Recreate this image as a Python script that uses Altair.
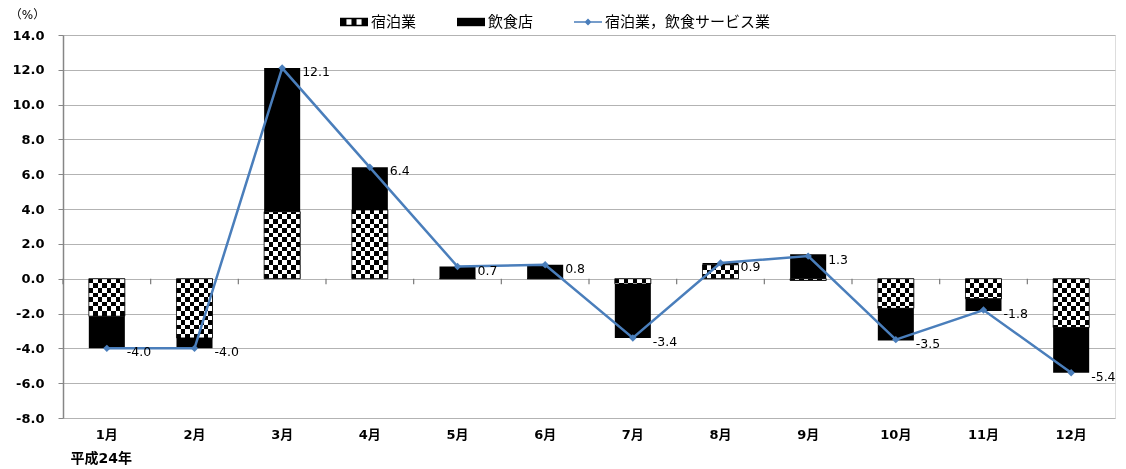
import altair as alt

# ---------------- data ----------------
months = ["1月", "2月", "3月", "4月", "5月", "6月", "7月", "8月", "9月", "10月", "11月", "12月"]
accom = [-2.15, -3.4, 3.85, 3.95, 0.0, 0.0, -0.3, 0.8, -0.1, -1.7, -1.15, -2.8]   # 宿泊業
food = [-1.85, -0.6, 8.25, 2.45, 0.7, 0.8, -3.1, 0.1, 1.4, -1.85, -0.7, -2.6]     # 飲食店
total = [-4.0, -4.0, 12.1, 6.4, 0.7, 0.8, -3.4, 0.9, 1.3, -3.5, -1.8, -5.4]        # 宿泊業，飲食サービス業
series_names = ["宿泊業", "飲食店", "宿泊業，飲食サービス業"]
y_ticks = [-8, -6, -4, -2, 0, 2, 4, 6, 8, 10, 12, 14]

# ---------------- style ----------------
FONT = "DejaVu Sans, Noto Sans CJK JP"
BLUE = "#4a7ebb"
W, H = 1052, 383
YMIN, YMAX = -8, 14
PXU = H / (YMAX - YMIN)
STEP = W / len(months)
SQ = 4.6  # checker square size in px
NCOL = 8
MINUS_FIX = "replace(format({v}, '.1f'), '\u2212', '-')"


def vstripes():
    stops = []
    for k in range(NCOL):
        c = "white" if k % 2 == 0 else "black"
        stops += [{"offset": k / NCOL, "color": c}, {"offset": (k + 1) / NCOL, "color": c}]
    return {"gradient": "linear", "x1": 0, "y1": 0, "x2": 1, "y2": 0, "stops": stops}


def hstripes(v):
    h = max(abs(v) * PXU, 0.5)
    stops = []
    k = 0
    while k * SQ < h:
        c = "white" if k % 2 == 0 else "rgba(255,255,255,0)"
        o0 = k * SQ / h
        o1 = min((k + 1) * SQ / h, 1.0)
        stops += [{"offset": o0, "color": c}, {"offset": o1, "color": c}]
        k += 1
    y1, y2 = (0, 1) if v < 0 else (1, 0)
    return {"gradient": "linear", "x1": 0, "y1": y1, "x2": 0, "y2": y2, "stops": stops}


accom_rows = [{"month": m, "lo": 0.0, "hi": a, "grad": hstripes(a)} for m, a in zip(months, accom)]
food_rows = []
for m, a, f in zip(months, accom, food):
    if a * f > 0:
        food_rows.append({"month": m, "lo": a, "hi": a + f})
    else:
        food_rows.append({"month": m, "lo": 0.0, "hi": f})
line_rows = [{"month": m, "total": t, "series": series_names[2]} for m, t in zip(months, total)]
legend_rows = [{"series": s} for s in series_names]
tick_rows = [{"month": m} for m in months]

# legend symbol paths
checker_path = ("M-1,-0.3 H1 V0.3 H-1 Z "
                "M-0.9,-0.2 V0.2 H0.9 V-0.2 Z "
                "M-0.9,-0.2 H-0.54 V0.2 H-0.9 Z "
                "M-0.18,-0.2 H0.18 V0.2 H-0.18 Z "
                "M0.54,-0.2 H0.9 V0.2 H0.54 Z")
rect_path = "M-1,-0.3 H1 V0.3 H-1 Z"
line_path = "M-1,-0.05 H1 V0.05 H-1 Z M0,-0.25 L0.25,0 L0,0.25 L-0.25,0 Z"

xscale = alt.Scale(domain=months, paddingInner=0.589, paddingOuter=0.2945)
yscale = alt.Scale(domain=[YMIN, YMAX], nice=False, zero=False)
yaxis = alt.Axis(values=y_ticks, labelExpr=MINUS_FIX.format(v="datum.value"), title="（%）",
                 titleAngle=0, titleX=-36, titleY=-21,
                 titleAlign="center", titleBaseline="middle", titleFont=FONT, titleFontSize=12,
                 titleFontWeight="normal", labelFont=FONT, labelFontSize=13, labelFontWeight="bold",
                 labelColor="#000", labelPadding=14, tickSize=5, tickColor="#868686",
                 domainColor="#868686", domainWidth=1.5, gridColor="#b3b3b3", gridWidth=1)

main_xaxis = alt.Axis(title="平成24年", titleAnchor="start", titleAlign="left", titleX=7, titleY=40,
                      titleBaseline="middle",
                      titleFont=FONT, titleFontSize=14, titleFontWeight="bold", labelAngle=0,
                      labelFont=FONT, labelFontSize=13, labelFontWeight="bold", labelColor="#000",
                      labelPadding=10, domain=False, ticks=False, grid=False)


def X():
    return alt.X("month:N", scale=xscale, axis=main_xaxis)


def Y(field):
    return alt.Y(field, type="quantitative", scale=yscale, axis=yaxis)


accom_data = alt.Data(values=accom_rows)
food_data = alt.Data(values=food_rows)
line_data = alt.Data(values=line_rows)

accom_v = alt.Chart(accom_data).mark_bar(fill=vstripes()).encode(
    x=X(), y=Y("lo"), y2="hi")
accom_h = alt.Chart(accom_data).mark_bar(blend="difference").encode(
    x=X(), y=Y("lo"), y2="hi", fill=alt.Fill("grad:N", scale=None))
accom_o = alt.Chart(accom_data).mark_bar(fillOpacity=0, stroke="black", strokeWidth=0.8).encode(
    x=X(), y=Y("lo"), y2="hi")
food_bar = alt.Chart(food_data).mark_bar(color="black").encode(
    x=X(), y=Y("lo"), y2="hi")

# category tick marks on the zero line (half a step left of each month)
zero_ticks = alt.Chart(alt.Data(values=tick_rows)).mark_point(
    shape="M0,0 L0,1", filled=False, stroke="#7a7a7a", strokeWidth=1.2, size=121, opacity=1,
    xOffset=-STEP / 2).encode(
    x=X(), y=alt.Y(datum=0, type="quantitative", scale=yscale, axis=yaxis))

line = alt.Chart(line_data).mark_line(color=BLUE, strokeWidth=2.5).encode(
    x=X(), y=Y("total"))
pts = alt.Chart(line_data).mark_point(shape="diamond", filled=True, color=BLUE, size=55, opacity=1).encode(
    x=X(), y=Y("total"))
labels = alt.Chart(line_data).transform_calculate(
    lbl=MINUS_FIX.format(v="datum.total")
).mark_text(align="left", baseline="middle", dx=20, dy=4, font=FONT, fontSize=12.5, color="#000").encode(
    x=X(), y=Y("total"), text="lbl:N")

leg = dict(title=None, orient="none", legendX=277, legendY=-27, direction="horizontal",
           symbolSize=784, symbolStrokeWidth=0, labelFont=FONT, labelFontSize=15, labelColor="#000",
           columnPadding=40, labelOffset=3, padding=0, labelLimit=500)
legend_layer = alt.Chart(alt.Data(values=legend_rows)).transform_filter("false").mark_point(
    filled=True, opacity=1).encode(
    color=alt.Color("series:N", scale=alt.Scale(domain=series_names, range=["black", "black", BLUE]),
                    legend=alt.Legend(**leg)),
    shape=alt.Shape("series:N", scale=alt.Scale(domain=series_names,
                                                range=[checker_path, rect_path, line_path]),
                    legend=alt.Legend(**leg)))

chart = alt.layer(accom_v, accom_h, accom_o, food_bar, zero_ticks, line, pts, labels,
                  legend_layer).properties(
    width=W, height=H,
    padding={"left": 55, "top": 27, "right": 3, "bottom": 50},
    autosize=alt.AutoSizeParams(type="none"),
).configure_view(stroke=None).configure(background="white")

chart.save("out.html", embed_options={"renderer": "svg", "actions": False})
